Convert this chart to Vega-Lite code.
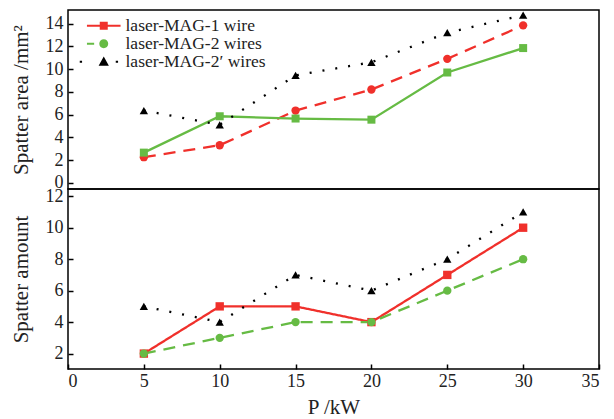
{
  "$schema": "https://vega.github.io/schema/vega-lite/v6.json",
  "padding": {"left": 9, "top": 9, "right": 0, "bottom": 0},
  "spacing": 0,
  "bounds": "flush",
  "config": {
    "font": "Liberation Serif",
    "view": {"stroke": "black", "strokeWidth": 1.5},
    "axis": {"labelFont": "Liberation Serif", "titleFont": "Liberation Serif", "labelFontSize": 18, "titleFontSize": 21, "titleFontWeight": "normal", "labelColor": "#222", "titleColor": "#222", "tickColor": "black", "domain": false, "grid": false, "tickSize": -5, "tickWidth": 1.5},
    "legend": {"labelFont": "Liberation Serif", "labelFontSize": 17.5, "labelColor": "#222"}
  },
  "datasets": {
    "area": [
      {"series": "laser-MAG-1 wire", "P": 5, "v": 2.25},
      {"series": "laser-MAG-1 wire", "P": 10, "v": 3.3},
      {"series": "laser-MAG-1 wire", "P": 15, "v": 6.35},
      {"series": "laser-MAG-1 wire", "P": 20, "v": 8.2},
      {"series": "laser-MAG-1 wire", "P": 25, "v": 10.9},
      {"series": "laser-MAG-1 wire", "P": 30, "v": 13.85},
      {"series": "laser-MAG-2 wires", "P": 5, "v": 2.65},
      {"series": "laser-MAG-2 wires", "P": 10, "v": 5.85},
      {"series": "laser-MAG-2 wires", "P": 15, "v": 5.65},
      {"series": "laser-MAG-2 wires", "P": 20, "v": 5.55},
      {"series": "laser-MAG-2 wires", "P": 25, "v": 9.7},
      {"series": "laser-MAG-2 wires", "P": 30, "v": 11.85},
      {"series": "laser-MAG-2′ wires", "P": 5, "v": 6.35},
      {"series": "laser-MAG-2′ wires", "P": 10, "v": 5.1},
      {"series": "laser-MAG-2′ wires", "P": 15, "v": 9.45},
      {"series": "laser-MAG-2′ wires", "P": 20, "v": 10.6},
      {"series": "laser-MAG-2′ wires", "P": 25, "v": 13.2},
      {"series": "laser-MAG-2′ wires", "P": 30, "v": 14.75}
    ],
    "amount": [
      {"series": "laser-MAG-1 wire", "P": 5, "v": 2},
      {"series": "laser-MAG-1 wire", "P": 10, "v": 5},
      {"series": "laser-MAG-1 wire", "P": 15, "v": 5},
      {"series": "laser-MAG-1 wire", "P": 20, "v": 4},
      {"series": "laser-MAG-1 wire", "P": 25, "v": 7},
      {"series": "laser-MAG-1 wire", "P": 30, "v": 10},
      {"series": "laser-MAG-2 wires", "P": 5, "v": 2},
      {"series": "laser-MAG-2 wires", "P": 10, "v": 3},
      {"series": "laser-MAG-2 wires", "P": 15, "v": 4},
      {"series": "laser-MAG-2 wires", "P": 20, "v": 4},
      {"series": "laser-MAG-2 wires", "P": 25, "v": 6},
      {"series": "laser-MAG-2 wires", "P": 30, "v": 8},
      {"series": "laser-MAG-2′ wires", "P": 5, "v": 5},
      {"series": "laser-MAG-2′ wires", "P": 10, "v": 4},
      {"series": "laser-MAG-2′ wires", "P": 15, "v": 7},
      {"series": "laser-MAG-2′ wires", "P": 20, "v": 6},
      {"series": "laser-MAG-2′ wires", "P": 25, "v": 8},
      {"series": "laser-MAG-2′ wires", "P": 30, "v": 11}
    ]
  },
  "resolve": {"scale": {"color": "independent", "shape": "independent", "strokeDash": "independent"}, "legend": {"color": "independent"}},
  "vconcat": [
    {
      "width": 531,
      "height": 179,
      "data": {"name": "area"},
      "encoding": {
        "x": {"field": "P", "type": "quantitative", "scale": {"domain": [0, 35], "nice": false}, "axis": null},
        "y": {"field": "v", "type": "quantitative", "scale": {"domain": [-0.55, 15.2], "nice": false, "zero": false}, "axis": {"values": [0, 2, 4, 6, 8, 10, 12, 14], "title": "Spatter area /mm²", "labelPadding": 10, "titlePadding": 14}}
      },
      "layer": [
        {
          "transform": [{"filter": "datum.series === 'laser-MAG-1 wire'"}],
          "mark": {"type": "line", "strokeWidth": 2.3, "color": "#f0302b", "strokeDash": [12, 8]}
        },
        {
          "transform": [{"filter": "datum.series === 'laser-MAG-2 wires'"}],
          "mark": {"type": "line", "strokeWidth": 2.3, "color": "#66bb44"}
        },
        {
          "transform": [{"filter": "datum.series === 'laser-MAG-2′ wires'"}],
          "mark": {"type": "line", "strokeWidth": 2.3, "color": "#000000", "strokeDash": [2, 11]}
        },
        {
          "transform": [{"filter": "datum.series === 'laser-MAG-1 wire'"}],
          "mark": {"type": "point", "filled": true, "opacity": 1, "size": 70, "shape": "circle", "color": "#f0302b"}
        },
        {
          "transform": [{"filter": "datum.series === 'laser-MAG-2 wires'"}],
          "mark": {"type": "point", "filled": true, "opacity": 1, "size": 64, "shape": "square", "color": "#66bb44"}
        },
        {
          "transform": [{"filter": "datum.series === 'laser-MAG-2′ wires'"}],
          "mark": {"type": "point", "filled": true, "opacity": 1, "size": 70, "shape": "triangle-up", "color": "#000000"}
        },
        {
          "transform": [{"filter": "false"}],
          "mark": {"type": "point", "filled": true, "opacity": 1},
          "encoding": {
            "color": {"field": "series", "type": "nominal", "scale": {"domain": ["laser-MAG-1 wire", "laser-MAG-2 wires", "laser-MAG-2′ wires"], "range": ["#f0302b", "#66bb44", "#000000"]},
              "legend": {"title": null, "orient": "none", "legendX": 27, "legendY": 7, "symbolSize": 256, "symbolStrokeWidth": 0, "symbolOpacity": 1, "labelOffset": 13, "rowPadding": -1, "padding": 0}},
            "shape": {"field": "series", "type": "nominal", "scale": {"domain": ["laser-MAG-1 wire", "laser-MAG-2 wires", "laser-MAG-2′ wires"], "range": ["M-2.1,-0.14H2.1V0.14H-2.1ZM-0.5,-0.5H0.5V0.5H-0.5Z", "M-2.1,-0.14H-1.2V0.14H-2.1ZM0.56,0A0.56,0.56,0,1,1,-0.56,0A0.56,0.56,0,1,1,0.56,0Z", "M-3,-0.14H-2.71V0.14H-3ZM1.5,-0.14H1.79V0.14H1.5ZM0,-0.66L0.64,0.5H-0.64Z"]}, "legend": null}
          }
        }
      ]
    },
    {
      "width": 531,
      "height": 180,
      "data": {"name": "amount"},
      "encoding": {
        "x": {"field": "P", "type": "quantitative", "scale": {"domain": [0, 35], "nice": false}, "axis": {"values": [0, 5, 10, 15, 20, 25, 30, 35], "title": "P /kW", "labelPadding": 8, "titlePadding": 6}},
        "y": {"field": "v", "type": "quantitative", "scale": {"domain": [1.02, 12.46], "nice": false, "zero": false}, "axis": {"values": [2, 4, 6, 8, 10, 12], "title": "Spatter amount", "labelPadding": 10, "titlePadding": 14}}
      },
      "layer": [
        {
          "mark": {"type": "line", "strokeWidth": 2.3},
          "encoding": {
            "color": {"field": "series", "type": "nominal", "scale": {"domain": ["laser-MAG-1 wire", "laser-MAG-2 wires", "laser-MAG-2′ wires"], "range": ["#f0302b", "#66bb44", "#000000"]}, "legend": null},
            "strokeDash": {"field": "series", "type": "nominal", "scale": {"domain": ["laser-MAG-1 wire", "laser-MAG-2 wires", "laser-MAG-2′ wires"], "range": [[1, 0], [12, 8], [2, 11]]}, "legend": null}
          }
        },
        {
          "mark": {"type": "point", "filled": true, "opacity": 1, "size": 70},
          "encoding": {
            "color": {"field": "series", "type": "nominal", "scale": {"domain": ["laser-MAG-1 wire", "laser-MAG-2 wires", "laser-MAG-2′ wires"], "range": ["#f0302b", "#66bb44", "#000000"]}, "legend": null},
            "shape": {"field": "series", "type": "nominal", "scale": {"domain": ["laser-MAG-1 wire", "laser-MAG-2 wires", "laser-MAG-2′ wires"], "range": ["square", "circle", "triangle-up"]}, "legend": null}
          }
        }
      ]
    }
  ]
}
